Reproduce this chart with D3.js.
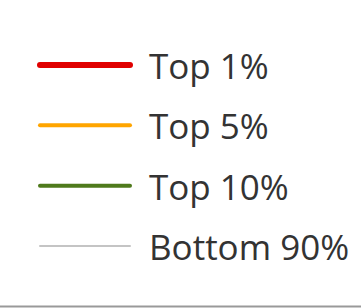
<!DOCTYPE html>
<html>
<head>
<meta charset="utf-8">
<script src="https://cdn.jsdelivr.net/npm/d3@7"></script>
<style>
  html, body { margin: 0; padding: 0; background: #fff; }
  svg { display: block; }
</style>
</head>
<body>
<div id="chart"></div>
<script>
const series = ['Top 1%', 'Top 5%', 'Top 10%', 'Bottom 90%']
const colors = ['#e00000', '#ffa500', '#4f7a1c', '#c4c4c4']
const strokeWidths = [6, 4, 4, 2]

const width = 361
const height = 308

const svg = d3.select('#chart')
  .append('svg')
  .attr('width', width)
  .attr('height', height)

/* one row per series */
const y = d3.scalePoint()
  .domain(series)
  .range([65, 246])

const color = d3.scaleOrdinal().domain(series).range(colors)
const stroke = d3.scaleOrdinal().domain(series).range(strokeWidths)

const row = svg.append('g')
  .selectAll('g')
  .data(series)
  .join('g')
  .attr('transform', d => `translate(0,${y(d)})`)

row.append('line')
  .attr('x1', 40)
  .attr('x2', 130)
  .attr('stroke', d => color(d))
  .attr('stroke-width', d => stroke(d))
  .attr('stroke-linecap', 'round')

row.append('text')
  .attr('x', 149)
  .attr('dy', '0.4em')
  .attr('fill', '#333')
  .attr('font-family', "'Open Sans', sans-serif")
  .attr('font-size', '35px')
  .text(d => d)

/* frame edge at the bottom */
svg.append('line')
  .attr('x1', 0)
  .attr('x2', width)
  .attr('y1', height - 1.5)
  .attr('y2', height - 1.5)
  .attr('stroke', '#999')
  .attr('stroke-width', 2)
</script>
</body>
</html>
